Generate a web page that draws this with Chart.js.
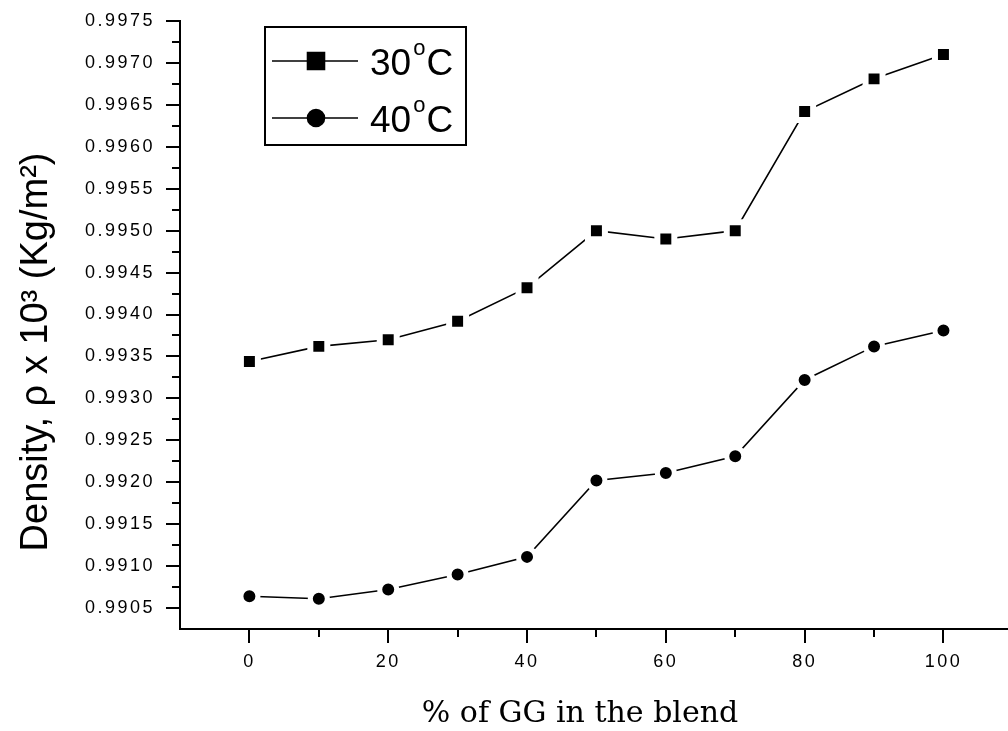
<!DOCTYPE html>
<html>
<head>
<meta charset="utf-8">
<script src="https://cdn.jsdelivr.net/npm/chart.js@4.4.1/dist/chart.umd.min.js"></script>
<style>
html, body { margin: 0; padding: 0; background: #fff; }
#wrap { width: 1008px; height: 731px; }
</style>
</head>
<body>
<div id="wrap"><canvas id="chartDensity" width="1008" height="731"></canvas></div>
<script>
// valores
const ggPercent = [0, 10, 20, 30, 40, 50, 60, 70, 80, 90, 100];
const density30 = [0.99344, 0.99362, 0.99370, 0.99392, 0.99432, 0.99500, 0.99490, 0.99500, 0.99642, 0.99681, 0.99710];
const density40 = [0.99064, 0.99061, 0.99072, 0.99090, 0.99111, 0.99202, 0.99211, 0.99231, 0.99322, 0.99362, 0.99381];
const seriesLabels = ['30', '40'];
const xMajor = [0, 20, 40, 60, 80, 100];
const xMinor = [10, 30, 50, 70, 90];
const yMajor = [0.9905, 0.9910, 0.9915, 0.9920, 0.9925, 0.9930, 0.9935, 0.9940, 0.9945, 0.9950, 0.9955, 0.9960, 0.9965, 0.9970, 0.9975];
const yMinor = [0.99075, 0.99125, 0.99175, 0.99225, 0.99275, 0.99325, 0.99375, 0.99425, 0.99475, 0.99525, 0.99575, 0.99625, 0.99675, 0.99725];
const xTitle = '% of GG in the blend';
const yTitle = 'Density, \u03C1 x 10\u00B3 (Kg/m\u00B2)';

const tickFont = { family: '"Liberation Sans", Arial', size: 18 };

// ticks menores, titulos y leyenda con recuadro
const extras = {
    id: 'extras',
    beforeDraw(chart) { chart.ctx.letterSpacing = '2.5px'; },
    afterDraw(chart) {
        const ctx = chart.ctx;
        ctx.save();
        ctx.letterSpacing = '0px';
        ctx.strokeStyle = '#000'; ctx.lineWidth = 2;
        const xs = chart.scales.x, ys = chart.scales.y, area = chart.chartArea;
        ctx.beginPath();
        xMinor.forEach(v => { const px = Math.round(xs.getPixelForValue(v)); ctx.moveTo(px, area.bottom); ctx.lineTo(px, area.bottom + 8); });
        yMinor.forEach(v => { const py = Math.round(ys.getPixelForValue(v)); ctx.moveTo(area.left, py); ctx.lineTo(area.left - 8, py); });
        ctx.stroke();

        ctx.fillStyle = '#000';
        // titulo eje y
        ctx.save();
        ctx.translate(37, 352); ctx.rotate(-Math.PI / 2);
        ctx.font = '38px "Liberation Sans", Arial'; ctx.textAlign = 'center'; ctx.textBaseline = 'middle';
        ctx.fillText(yTitle, 0, 0);
        ctx.restore();
        // titulo eje x
        ctx.font = '30px "DejaVu Serif", serif'; ctx.textAlign = 'center'; ctx.textBaseline = 'alphabetic';
        ctx.fillText(xTitle, 580, 722);

        // leyenda
        ctx.lineWidth = 2;
        ctx.strokeRect(265, 27, 201, 118);
        const rows = [61, 118];
        chart.data.datasets.forEach((ds, i) => {
            const y = rows[i];
            ctx.lineWidth = ds.borderWidth; ctx.strokeStyle = '#000';
            ctx.beginPath(); ctx.moveTo(272, y); ctx.lineTo(358, y); ctx.stroke();
            Chart.helpers.drawPoint(ctx, { pointStyle: ds.pointStyle, radius: ds.pointRadius, borderWidth: ds.pointBorderWidth, rotation: 0 }, 316, y);
            ctx.fillStyle = '#000';
            ctx.font = '37px "Liberation Sans", Arial'; ctx.textAlign = 'left'; ctx.textBaseline = 'alphabetic';
            const base = y + 14;
            ctx.fillText(seriesLabels[i], 370, base);
            let x = 370 + ctx.measureText(seriesLabels[i]).width + 2;
            ctx.font = '22px "Liberation Sans", Arial';
            ctx.fillText('o', x, base - 20);
            x += ctx.measureText('o').width + 1;
            ctx.font = '37px "Liberation Sans", Arial';
            ctx.fillText('C', x, base);
        });
        ctx.restore();
    }
};

new Chart(document.getElementById('chartDensity'), {
    type: 'line',
    data: {
        datasets: [
            { label: '30\u00B0C', data: ggPercent.map((x, i) => ({ x: x, y: density30[i] })), borderColor: '#000', borderWidth: 1.6,
              pointStyle: 'rect', pointRadius: 12, pointBackgroundColor: '#000', pointBorderColor: '#fff', pointBorderWidth: 6, fill: false, tension: 0 },
            { label: '40\u00B0C', data: ggPercent.map((x, i) => ({ x: x, y: density40[i] })), borderColor: '#000', borderWidth: 1.6,
              pointStyle: 'circle', pointRadius: 8.5, pointBackgroundColor: '#000', pointBorderColor: '#fff', pointBorderWidth: 5, fill: false, tension: 0 }
        ]
    },
    options: {
        responsive: false, animation: false, clip: false,
        layout: { autoPadding: false, padding: { top: 21, left: 0, right: 0, bottom: 0 } },
        plugins: { legend: { display: false }, tooltip: { enabled: false } },
        scales: {
            x: {
                type: 'linear', min: -10, max: 109.3,
                afterBuildTicks: s => { s.ticks = xMajor.map(v => ({ value: v })); },
                afterFit: s => { s.height = 102; s.paddingLeft = 0; s.paddingRight = 0; },
                grid: { drawOnChartArea: false, drawTicks: true, tickLength: 14, color: '#000', lineWidth: 2 },
                border: { display: true, color: '#000', width: 2 },
                ticks: { color: '#000', font: tickFont, padding: 8, maxRotation: 0, callback: v => String(v) }
            },
            y: {
                type: 'linear', min: 0.99025, max: 0.9975,
                afterBuildTicks: s => { s.ticks = yMajor.map(v => ({ value: v })); },
                afterFit: s => { s.width = 180; s.paddingTop = 0; s.paddingBottom = 0; },
                grid: { drawOnChartArea: false, drawTicks: true, tickLength: 14, color: '#000', lineWidth: 2 },
                border: { display: true, color: '#000', width: 2 },
                ticks: { color: '#000', font: tickFont, padding: 11, callback: v => v.toFixed(4) }
            }
        }
    },
    plugins: [extras]
});
</script>
</body>
</html>
